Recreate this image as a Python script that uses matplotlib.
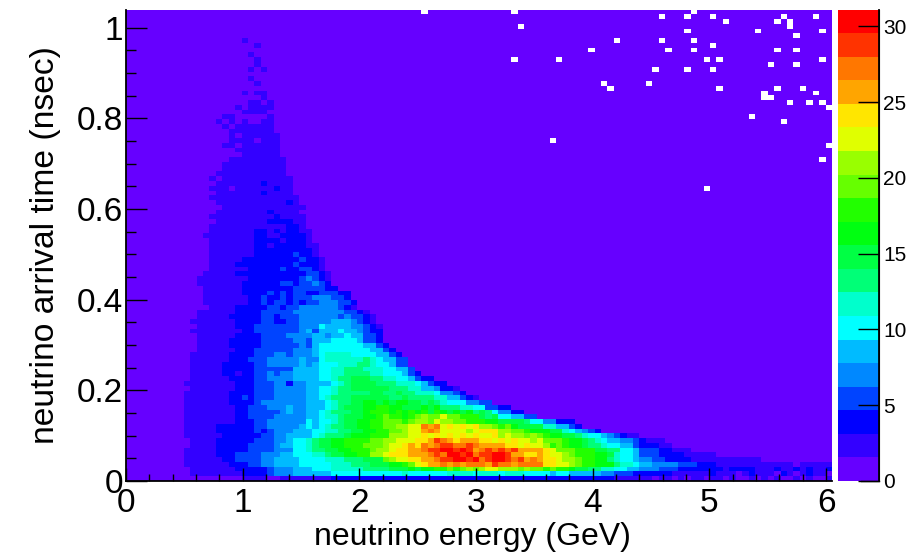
import numpy as np
import matplotlib
matplotlib.use('Agg')
import matplotlib.pyplot as plt
from matplotlib.colors import ListedColormap, BoundaryNorm

plt.rcParams['font.family'] = ['Liberation Sans', 'DejaVu Sans']

# bins
bin_w = 0.055
bin_h = 0.0105
n_cols = 110
n_rows = 99
z_max = 31.1
n_levels = 20

level_colors = ['#6600ff', '#3300ff', '#0000ff', '#0044ff', '#0088ff', '#00bbff', '#00ffff',
                '#00ffcc', '#00ff77', '#00ff44', '#00ff11', '#22ff00', '#66ff00', '#99ff00',
                '#e0ff00', '#ffe600', '#ffa500', '#ff7700', '#ff3300', '#ff0000']

# one string per row starting from the bottom, one character per bin (base 20 colour band)
# groups of ten bins, missing bins on the right are the lowest band
level_rows = [
    "0000000000 0000000011 1100111111 1122222222 2222222222 2222222222 2222222222 2222221111 1101101011 0110100101 0100101001",
    "0000000000 1111111122 2234445555 5566666666 6667666666 7777677767 7766665665 5555443332 2222211111 1211101211 1021012110",
    "0000000000 1111111222 2234445556 6677777888 8999a9aabb cbcdcdeedd dcdccbcbba 9988776655 4443332222 2221222211 1211212112",
    "0000000001 1111112223 3445555666 6677788899 9aabcefggh ghghhhgihh ghhhhffeed cbbaaa8776 5544443332 2211111111 1111011111",
    "0000000001 1111122333 3445555666 6777888999 cdeeffgghi ijjijhijji highgffedd cbbaa87665 4433222211 1111111110",
    "0000000001 1111222333 3444556667 7899aabbdd efffggghih jjijhiijji ggffgfeedc bbbaa97665 3332222111 11",
    "0000000001 1111222223 3334446678 899aabbbcd deffgghiij jijighihih iggggfeccc bbb9988665 3332211100",
    "0000000000 1111222223 3334556678 99aabbbccc deefgfhghi ihhihggggf fefeedbcba a988766553 22211",
    "0000000000 1111222222 3334456678 99aabbbbcc ddeeeffgih gfgggffefe feedecccba a987655443 2111",
    "0000000001 1111122222 2334455556 78889aaabb bdddeefefe fefefeefde ddcdcbaa99 8766543211",
    "0000000001 1111222222 3234445556 6778899aab bccdeeghge eeedefffdd ccbaaa9976 5432",
    "0000000001 1111222222 3344444565 678899aabb ccddeehghe fefefddcbc a999977553 2",
    "0000000001 1111111222 3344444465 667899aabb cccbcddced dccbbbaa99 9986644222",
    "0000000001 1111111223 3334444455 6778999aab cbbabcdcce ccbbb98966 5533",
    "0000000001 1111111223 3333454455 6788899abb bababab9ba 9a9a898644 22",
    "0000000001 1111111223 3344454455 5678999aab baa999a9a8 8877663322",
    "0000000001 1111112222 3444444455 5678899aa9 a9aa998987 6664433",
    "0000000001 1111112232 3334444455 6788899999 9889888877 55321",
    "0000000001 1111112222 3334444455 6678888899 8898877764 432",
    "0000000000 1111111222 3334444455 6678899999 9888775542 21",
    "0000000001 1111111222 3334424455 5567899998 8877765322",
    "0000000000 1111112222 3344445555 6678899988 77665322",
    "0000000000 1111122122 3343445555 6677888877 666532",
    "0000000000 1111122222 3333335555 6677888777 66553",
    "0000000000 1111122222 3344444545 6667778876 6533",
    "0000000000 1111112223 3344444544 6777777876 5533",
    "0000000000 1111112222 3334434445 6777766665 532",
    "0000000000 0111111222 3333334445 6666666655 32",
    "0000000000 0111112222 2333333435 6666666553 2",
    "0000000000 0111112222 2333334435 5566665332",
    "0000000000 0111111222 2333344445 5455655332",
    "0000000000 1111111122 3333333453 5556554322",
    "0000000000 0111111222 3333333444 6555544321",
    "0000000000 1111111222 2332233444 445554321",
    "0000000000 0111112222 2332333444 444343321",
    "0000000000 0111111222 2333334444 44443321",
    "0000000000 0001111222 2233233444 444321",
    "0000000000 0011111112 2323323233 444332",
    "0000000000 0011111112 2322323334 44332",
    "0000000000 0011111122 2232323322 33322",
    "0000000000 0011111122 2222223333 322",
    "0000000000 0111111122 2222332334 32",
    "0000000000 0111111112 2222222343 21",
    "0000000000 0011111222 2222222233 21",
    "0000000000 0001111112 2222322332 1",
    "0000000000 0001111222 2222223222 1",
    "0000000000 0001111122 2222222322 1",
    "0000000000 0001111111 2222223221",
    "0000000000 0001111111 2222222221",
    "0000000000 0001111111 2212222211",
    "0000000000 0001111111 222212221",
    "0000000000 0011111111 221122221",
    "0000000000 0001111111 221212211",
    "0000000000 0001111111 11111221",
    "0000000000 0000111111 11222211",
    "0000000000 0001111111 11121111",
    "0000000000 0000111111 1121111",
    "0000000000 0000011111 11111111",
    "0000000000 0000111111 1111121",
    "0000000000 0001111111 1111111",
    "0000000000 0000111111 121111",
    "0000000000 0001110111 111211",
    "0000000000 0000111111 121111",
    "0000000000 0001011111 111111",
    "0000000000 0000111111 11111",
    "0000000000 0000011111 11111",
    "0000000000 0000011111 11111",
    "0000000000 0000001111 11111",
    "0000000000 0000000011 1111",
    "0000000000 0000000111 1111",
    "0000000000 0000011011 1111",
    "0000000000 0000001111 0111",
    "0000000000 0000001011 1111",
    "0000000000 0000001111 111",
    "0000000000 0000010111 111",
    "0000000000 0000101010 011",
    "0000000000 0000011000 001",
    "0000000000 0000000011 11",
    "0000000000 0000000101 111",
    "0000000000 0000000001 101",
    "0000000000 0000000000 01",
    "0000000000 0000000010 11",
    "",
    "0000000000 0000000000 1",
    "0000000000 0000000001",
    "",
    "0000000000 0000000001 01",
    "0000000000 0000000000 1",
    "0000000000 0000000000 1",
    "0000000000 0000000001",
    "",
    "0000000000 0000000000 1",
    "0000000000 0000000010",
]

# empty bins, these stay white
empty_cols = [46, 60, 88, 83, 87, 91, 102, 107, 93, 101, 103, 103, 61, 87, 98, 108, 104, 76, 83, 88, 91,
              72, 84, 88, 101, 104, 60, 67, 90, 92, 108, 100, 104, 82, 87, 91, 74, 81, 75, 92, 101,
              105, 107, 99, 99, 100, 103, 106, 108, 109, 97, 102, 66, 109, 108, 90]
empty_rows = [98, 98, 98, 97, 97, 97, 97, 97, 96, 96, 96, 95, 95, 94, 94, 94, 93, 92, 92, 92, 91,
              90, 90, 90, 90, 90, 88, 88, 88, 88, 88, 87, 87, 86, 86, 86, 83, 83, 82, 82, 82,
              82, 81, 81, 80, 80, 79, 79, 79, 78, 76, 75, 71, 70, 67, 61]

x_ticks = [0, 1, 2, 3, 4, 5, 6]
x_minor = [0.2 * i for i in range(31)]
y_ticks = [0, 0.2, 0.4, 0.6, 0.8, 1]
y_tick_labels = ['0', '0.2', '0.4', '0.6', '0.8', '1']
y_minor = [0.05 * i for i in range(21)]
z_ticks = [0, 5, 10, 15, 20, 25, 30]

band = z_max / n_levels
digits = '0123456789abcdefghij'
counts = np.zeros((n_rows, n_cols))
for j, row in enumerate(level_rows):
    row = row.replace(' ', '').ljust(n_cols, '0')
    counts[j] = [(digits.index(c) + 0.5) * band for c in row[:n_cols]]
counts = np.ma.array(counts)
counts[empty_rows, empty_cols] = np.ma.masked

x_edges = np.arange(n_cols + 1) * bin_w
y_edges = np.arange(n_rows + 1) * bin_h
bounds = np.linspace(0, z_max, n_levels + 1)
cmap = ListedColormap(level_colors)
cmap.set_bad('white')
norm = BoundaryNorm(bounds, n_levels)

fig = plt.figure(figsize=(9.21, 5.53), dpi=100)
W, H = 921.0, 553.0
ax = fig.add_axes([126 / W, (H - 481) / H, 706 / W, 471.4 / H])
mesh = ax.pcolormesh(x_edges, y_edges, counts, cmap=cmap, norm=norm, antialiased=False, linewidth=0)
ax.set_xlim(x_edges[0], x_edges[-1])
ax.set_ylim(y_edges[0], y_edges[-1])

ax.spines['top'].set_visible(False)
ax.spines['right'].set_visible(False)
ax.spines['left'].set_linewidth(1.3)
ax.spines['bottom'].set_linewidth(1.3)

ax.set_xticks(x_ticks)
ax.set_xticks(x_minor, minor=True)
ax.set_yticks(y_ticks)
ax.set_yticklabels(y_tick_labels)
ax.set_yticks(y_minor, minor=True)
ax.tick_params(axis='x', which='major', direction='in', length=9.5, width=1, labelsize=24, pad=5)
ax.tick_params(axis='x', which='minor', direction='in', length=5, width=1)
ax.tick_params(axis='y', which='major', direction='in', length=15, width=1, labelsize=24, pad=2)
ax.tick_params(axis='y', which='minor', direction='in', length=7.5, width=1)

ax.set_xlabel('neutrino energy (GeV)', fontsize=23)
ax.xaxis.set_label_coords(0.49, -0.087, transform=ax.transAxes)
ax.set_ylabel('neutrino arrival time (nsec)', fontsize=24.2)
ax.yaxis.set_label_coords(-0.092, 0.5, transform=ax.transAxes)

cax = fig.add_axes([838 / W, (H - 481) / H, 41 / W, 471.4 / H])
cb = fig.colorbar(mesh, cax=cax, ticks=z_ticks, spacing='proportional', drawedges=False)
cb.outline.set_visible(False)
cax.spines['right'].set_visible(True)
cax.set_yticks(z_ticks)
cax.set_yticklabels([str(t) for t in z_ticks])
cax.minorticks_off()
cax.tick_params(axis='y', which='major', direction='in', length=15, width=1, labelsize=15, pad=3)
cax.plot([1, 1], [0, 1], transform=cax.transAxes, color='black', lw=1.3, clip_on=False)
cax.plot([0.55, 1], [0, 0], transform=cax.transAxes, color='black', lw=1, clip_on=False)

fig.savefig('out.png', dpi=100)
